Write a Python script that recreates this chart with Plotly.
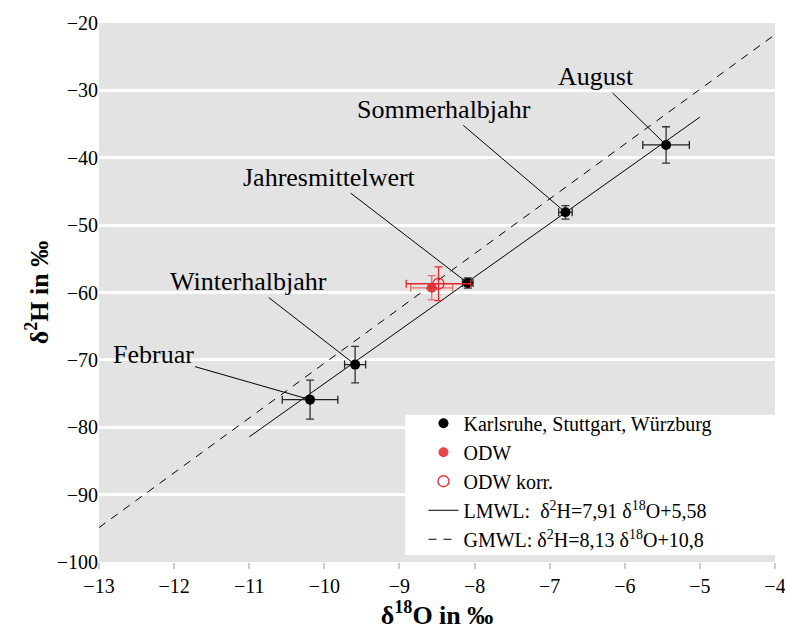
"""Isotopendiagramm d18O / d2H mit LMWL und GMWL."""
import plotly.graph_objects as go

# Karlsruhe, Stuttgart, Wuerzburg (Monats-/Halbjahres-/Jahresmittel)
labels = ["Februar", "Winterhalbjahr", "Jahresmittelwert", "Sommerhalbjahr", "August"]
d18o = [-10.19, -9.59, -8.09, -6.79, -5.45]
d2h = [-75.9, -70.7, -58.6, -48.1, -38.1]
d18o_err = [0.37, 0.14, 0.07, 0.09, 0.31]
d2h_err = [2.9, 2.7, 0.75, 1.0, 2.7]

# ODW
odw_x = [-8.57]
odw_y = [-59.3]
odw_xerr = [0.28]
odw_yerr = [1.8]

# ODW korr.
odwk_x = [-8.48]
odwk_y = [-58.7]
odwk_xerr = [0.43]
odwk_yerr = [2.5]

# Wasserlinien (Endpunkte)
lmwl_x = [-11.0, -5.0]
lmwl_y = [-81.43, -33.97]
gmwl_x = [-13.0, -4.0]
gmwl_y = [-94.89, -21.72]

# label offsets in px (text centre relative to point)
label_ax = [-157, -107, -138, -121, -70]
label_ay = [-45, -83, -106, -103, -68]

FONT = "Liberation Serif"
RED = "#e3262b"

fig = go.Figure()

fig.add_trace(go.Scatter(
    x=gmwl_x, y=gmwl_y, mode="lines",
    line=dict(color="black", width=1, dash="8px,7px"),
    name="GMWL: δ<sup>2</sup>H=8,13 δ<sup>18</sup>O+10,8", legendrank=5,
))
fig.add_trace(go.Scatter(
    x=lmwl_x, y=lmwl_y, mode="lines",
    line=dict(color="black", width=1),
    name="LMWL:  δ<sup>2</sup>H=7,91 δ<sup>18</sup>O+5,58", legendrank=4,
))
fig.add_trace(go.Scatter(
    x=d18o, y=d2h, mode="markers",
    marker=dict(color="black", size=10),
    error_x=dict(type="data", array=d18o_err, color="#222", thickness=1.3, width=4),
    error_y=dict(type="data", array=d2h_err, color="#333", thickness=1.3, width=4),
    name="Karlsruhe, Stuttgart, Würzburg", legendrank=1,
))
fig.add_trace(go.Scatter(
    x=odw_x, y=odw_y, mode="markers",
    marker=dict(color=RED, size=10, opacity=0.85),
    error_x=dict(type="data", array=odw_xerr, color="#ec6a6d", thickness=1.3, width=4),
    error_y=dict(type="data", array=odw_yerr, color="#ec6a6d", thickness=1.3, width=4),
    name="ODW", legendrank=2,
))
fig.add_trace(go.Scatter(
    x=odwk_x, y=odwk_y, mode="markers",
    marker=dict(color=RED, size=11, symbol="circle-open", line=dict(width=1.3)),
    error_x=dict(type="data", array=odwk_xerr, color=RED, thickness=1.3, width=4),
    error_y=dict(type="data", array=odwk_yerr, color=RED, thickness=1.3, width=4),
    name="ODW korr.", legendrank=3,
))

for lab, x, y, ax, ay in zip(labels, d18o, d2h, label_ax, label_ay):
    fig.add_annotation(
        x=x, y=y, text=lab, showarrow=True, arrowhead=0, arrowwidth=1,
        arrowcolor="black", ax=ax, ay=ay, standoff=0,
        font=dict(family=FONT, size=26, color="black"),
    )

# white legend box
fig.add_shape(
    type="rect", xref="paper", yref="paper", layer="above",
    x0=0.453, x1=1.0, y0=0.013, y1=0.273,
    fillcolor="white", line=dict(width=0),
)

fig.update_layout(
    width=785, height=632,
    margin=dict(l=99, r=10, t=23, b=70),
    paper_bgcolor="white",
    plot_bgcolor="#e3e3e3",
    font=dict(family=FONT, size=20, color="black"),
    legend=dict(
        x=0.48, y=0.006, xanchor="left", yanchor="bottom",
        bgcolor="rgba(0,0,0,0)",
        font=dict(family=FONT, size=20),
        tracegroupgap=0,
    ),
    xaxis=dict(
        range=[-13, -4], dtick=1, showgrid=False, zeroline=False,
        ticks="outside", ticklen=6, tickcolor="#cccccc", tickwidth=2,
        ticklabeloverflow="allow", automargin=False,
        title=dict(text="<b>δ<sup>18</sup>O in ‰</b>", font=dict(size=26), standoff=4),
    ),
    yaxis=dict(
        range=[-100, -20], dtick=10, showgrid=True, gridcolor="white", gridwidth=3,
        zeroline=False, ticks="", automargin=False,
        title=dict(text="<b>δ<sup>2</sup>H in ‰</b>", font=dict(size=26), standoff=0),
    ),
)

# the page has a default body margin; drop it so the figure sits at 0,0
fig.write_html(
    "out.html",
    config={"displayModeBar": False},
    post_script="document.body.style.margin='0';",
)
